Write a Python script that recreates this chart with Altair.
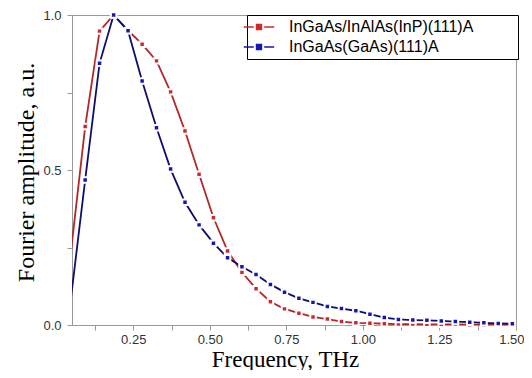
import altair as alt
import pandas as pd

freq = [0.047, 0.093, 0.140, 0.186, 0.233, 0.279, 0.326, 0.372, 0.419, 0.465,
        0.512, 0.558, 0.605, 0.651, 0.698, 0.744, 0.791, 0.837, 0.884, 0.930,
        0.977, 1.023, 1.070, 1.116, 1.163, 1.209, 1.256, 1.302, 1.349, 1.395,
        1.442, 1.488]
red_amp = [0.24, 0.64, 0.948, 1.0, 0.95, 0.906, 0.852, 0.752, 0.626, 0.486,
           0.346, 0.239, 0.17, 0.117, 0.075, 0.052, 0.038, 0.026, 0.019, 0.011,
           0.007, 0.006, 0.004, 0.003, 0.003, 0.002, 0.002, 0.002, 0.001, 0.001,
           0.001, 0.001]
blue_amp = [0.09, 0.468, 0.844, 1.0, 0.949, 0.787, 0.636, 0.503, 0.396, 0.323,
            0.264, 0.217, 0.188, 0.163, 0.131, 0.106, 0.086, 0.073, 0.06, 0.053,
            0.046, 0.035, 0.024, 0.018, 0.016, 0.015, 0.013, 0.011, 0.009, 0.007,
            0.005, 0.004]
series_names = ["InGaAs/InAlAs(InP)(111)A", "InGaAs(GaAs)(111)A"]
line_colors = ["#b3272b", "#0e0e6e"]
marker_colors = ["#d02828", "#1616b4"]
x_ticks = [0.125, 0.25, 0.375, 0.5, 0.625, 0.75, 0.875, 1.0, 1.125, 1.25, 1.375, 1.5]
y_ticks = [0.0, 0.25, 0.5, 0.75, 1.0]

rows = []
for name, vals in zip(series_names, [red_amp, blue_amp]):
    for f, v in zip(freq, vals):
        rows.append({"freq": f, "amp": v, "series": name})
df = pd.DataFrame(rows)

x = alt.X(
    "freq:Q",
    scale=alt.Scale(domain=[0.05, 1.5], nice=False, zero=False),
    axis=alt.Axis(
        values=x_ticks,
        labelExpr="(datum.value*8) % 2 == 0 ? format(datum.value, '.2f') : ''",
        grid=False, tickSize=5, labelPadding=3, labelFlush=True, labelFlushOffset=8,
        labelFont="Liberation Sans", labelFontSize=13, labelColor="#333",
        domainColor="#999", tickColor="#999",
        title="Frequency, THz", titleFont="Liberation Serif", titleFontSize=23,
        titleFontWeight="normal", titleColor="black",
        titleX=213, titleY=41, titleBaseline="alphabetic", titleAlign="center",
    ),
)
y = alt.Y(
    "amp:Q",
    scale=alt.Scale(domain=[0, 1], nice=False),
    axis=alt.Axis(
        values=y_ticks,
        labelExpr="(datum.value*4) % 2 == 0 ? format(datum.value, '.1f') : ''",
        grid=False, tickSize=5, labelPadding=6, labelFlush=False,
        labelFont="Liberation Sans", labelFontSize=13, labelColor="#333",
        domainColor="#999", tickColor="#999",
        title="Fourier amplitude, a.u.", titleFont="Liberation Serif", titleFontSize=24,
        titleFontWeight="normal", titleColor="black", titleAngle=-90,
        titleX=-39, titleY=157, titleBaseline="alphabetic", titleAlign="center",
    ),
)

legend_path = ("M-1.9,-0.1L-0.65,-0.1L-0.65,0.1L-1.9,0.1Z "
               "M-0.4,-0.4L0.4,-0.4L0.4,0.4L-0.4,0.4Z "
               "M0.65,-0.1L1.9,-0.1L1.9,0.1L0.65,0.1Z")

lines = alt.Chart(df).mark_line(strokeWidth=1.8, clip=True).encode(
    x=x, y=y,
    color=alt.Color("series:N", scale=alt.Scale(domain=series_names, range=line_colors), legend=None),
)

points = alt.Chart(df).transform_filter(alt.datum.freq >= 0.05).mark_point(
    shape="square", filled=True, size=30, stroke="white", strokeWidth=2, opacity=1
).encode(
    x=x, y=y,
    color=alt.Color(
        "series:N",
        scale=alt.Scale(domain=series_names, range=marker_colors),
        legend=alt.Legend(
            title=None,
            orient="none", legendX=175, legendY=0,
            symbolType=legend_path, symbolSize=256, symbolStrokeWidth=0, symbolOpacity=1,
            labelFont="Liberation Sans", labelFontSize=16, labelColor="black",
            labelOffset=22, labelLimit=600,
            labelExpr="datum.label + '\u00a0\u00a0\u00a0\u00a0\u00a0\u00a0\u00a0\u00a0\u00a0\u200d'",
            strokeColor="black", fillColor="white", padding=4, rowPadding=4,
        ),
    ),
)

chart = alt.layer(lines, points).resolve_scale(color="independent").properties(
    width=444, height=310,
    autosize=alt.AutoSizeParams(type="none"),
    padding={"left": 64, "top": 7, "right": 8, "bottom": 45},
).configure_view(stroke="#999", strokeWidth=1)

chart.save("out.html", embed_options={"renderer": "svg", "actions": False})
